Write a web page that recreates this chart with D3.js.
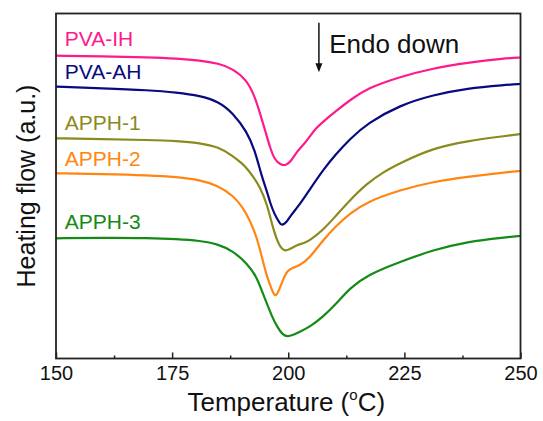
<!DOCTYPE html>
<html>
<head>
<meta charset="utf-8">
<script src="https://cdn.jsdelivr.net/npm/d3@7"></script>
<style>
  html, body { margin: 0; padding: 0; background: #fff; }
  svg text { font-family: "Liberation Sans", Arial, sans-serif; }
</style>
</head>
<body>
<svg id="chart" width="543" height="421"></svg>
<script>
// ---- data ----
const xTicks = [150, 175, 200, 225, 250];
const xMinorTicks = [162.5, 187.5, 212.5, 237.5];

const tIH = [150, 160, 170, 176, 181, 185, 188, 191.1, 192.8, 193.9, 195.0, 196.1, 197.1, 198.3, 199.5, 200.6, 201.7, 202.5, 203.6, 204.7, 206.0, 207.5, 210.1, 213.3, 217.0, 224.1, 231.2, 238.5, 246.7, 250];
const vIH = [87.77, 87.59, 87.30, 86.96, 86.43, 85.51, 84.06, 80.72, 75.88, 71.16, 66.23, 61.01, 57.54, 56.23, 55.88, 57.25, 59.57, 60.87, 62.46, 64.49, 66.81, 68.64, 71.54, 74.93, 78.32, 81.68, 84.12, 85.74, 87.01, 87.25];

const tAH = [150, 160, 170, 176, 181, 185, 188.1, 191.1, 192.8, 194.3, 195.4, 196.1, 197.1, 198.2, 198.6, 199.7, 200.3, 202.5, 204.7, 207.5, 210.1, 213.3, 217.0, 224.1, 231.2, 238.5, 246.7, 250];
const vAH = [78.78, 78.35, 77.77, 77.10, 76.17, 74.49, 71.16, 65.74, 60.43, 52.70, 48.55, 45.07, 41.59, 39.19, 38.49, 39.57, 41.10, 44.64, 49.13, 54.64, 58.99, 63.62, 68.17, 73.48, 76.38, 78.32, 79.28, 79.57];

const tP1 = [150, 160, 170, 176, 181, 185, 188.1, 190.2, 191.1, 192.6, 193.9, 195.4, 196.8, 198.1, 199.3, 200.7, 201.8, 203.6, 204.7, 207.5, 210.1, 213.3, 217.0, 220.5, 224.1, 231.2, 238.5, 246.7, 250];
const vP1 = [63.83, 63.62, 63.33, 63.04, 62.46, 61.30, 58.70, 56.38, 55.07, 52.46, 49.71, 44.99, 37.25, 32.41, 30.96, 31.94, 32.90, 33.48, 34.35, 37.25, 41.10, 45.94, 50.78, 54.06, 56.67, 61.01, 63.04, 64.49, 65.07];

const tP2 = [150, 160, 170, 176, 181, 184.8, 188.1, 190.2, 191.7, 193.2, 194.3, 195.4, 196.5, 197.1, 197.8, 198.8, 199.9, 201.0, 202.5, 204.7, 207.5, 210.1, 213.3, 217.0, 224.1, 231.2, 238.5, 246.7, 250];
const vP2 = [53.68, 53.48, 53.13, 52.61, 51.74, 50.14, 47.25, 43.91, 40.14, 35.30, 29.51, 23.71, 19.86, 17.91, 18.90, 22.75, 25.65, 26.32, 26.96, 29.28, 34.35, 38.20, 42.09, 45.45, 48.84, 51.25, 52.70, 53.97, 54.35];

const tP3 = [150, 160, 170, 176, 181, 184.8, 188.1, 191.1, 193.2, 194.5, 195.4, 196.5, 197.6, 198.8, 199.9, 201.0, 202.5, 204.7, 207.5, 210.1, 213.3, 217.0, 224.1, 231.2, 238.5, 246.7, 250];
const vP3 = [34.84, 34.99, 34.93, 34.64, 34.12, 33.19, 31.16, 27.59, 23.71, 18.90, 16.00, 12.12, 9.22, 6.81, 6.32, 6.81, 7.77, 9.22, 12.12, 15.51, 20.43, 24.20, 28.06, 31.45, 33.86, 35.13, 35.51];

const seriesNames = ["PVA-IH", "PVA-AH", "APPH-1", "APPH-2", "APPH-3"];
const seriesT = [tIH, tAH, tP1, tP2, tP3];
const seriesV = [vIH, vAH, vP1, vP2, vP3];
const seriesColors = ["#ff1a8c", "#0a0a80", "#8a8a1e", "#ff8612", "#168a16"];
// label positions (temperature, a.u.)
const labelT = [151.9, 151.9, 151.9, 151.9, 151.9];
const labelV = [90.7, 80.9, 66.2, 55.8, 37.4];

// ---- layout ----
const svg = d3.select("#chart");
const L = 56, R = 520.5, T = 13.5, B = 358.5;
const x = d3.scaleLinear().domain([150, 250]).range([L, R]);
const y = d3.scaleLinear().domain([0, 100]).range([B, T]);

// curves
const line = d3.line().x(d => x(d[0])).y(d => y(d[1])).curve(d3.curveBasis);
seriesNames.forEach((name, i) => {
  const pts = seriesT[i].map((t, k) => [t, seriesV[i][k]]);
  svg.append("path").datum(pts)
    .attr("d", line)
    .attr("fill", "none")
    .attr("stroke", seriesColors[i])
    .attr("stroke-width", 2.2)
    .attr("stroke-linejoin", "round");
  svg.append("text")
    .attr("x", x(labelT[i])).attr("y", y(labelV[i]))
    .attr("fill", seriesColors[i])
    .attr("font-size", 21)
    .text(name);
});

// bottom axis with inward ticks
const xAxis = d3.axisBottom(x).tickValues(xTicks).tickSize(-6).tickPadding(7).tickFormat(d3.format("d"));
const gx = svg.append("g").attr("transform", `translate(0,${B})`).call(xAxis);
gx.select(".domain").remove();
gx.selectAll(".tick line").attr("stroke", "#222").attr("stroke-width", 1.5);
gx.selectAll(".tick text").attr("font-size", 20).attr("fill", "#111").attr("font-family", "Liberation Sans, Arial, sans-serif");
const xMinor = d3.axisBottom(x).tickValues(xMinorTicks).tickSize(-3).tickFormat("");
const gxm = svg.append("g").attr("transform", `translate(0,${B})`).call(xMinor);
gxm.select(".domain").remove();
gxm.selectAll(".tick line").attr("stroke", "#222").attr("stroke-width", 1.5);

// frame
svg.append("rect").attr("x", L).attr("y", T).attr("width", R - L).attr("height", B - T)
  .attr("fill", "none").attr("stroke", "#222").attr("stroke-width", 1.8);

// axis titles
const xt = svg.append("text").attr("x", (L + R) / 2 - 2).attr("y", 411).attr("text-anchor", "middle")
  .attr("font-size", 26).attr("fill", "#111");
xt.append("tspan").text("Temperature (");
xt.append("tspan").attr("font-size", 15).attr("dy", -11).text("o");
xt.append("tspan").attr("dy", 11).text("C)");

svg.append("text").attr("transform", `translate(35,${(T + B) / 2}) rotate(-90)`)
  .attr("text-anchor", "middle").attr("font-size", 25).attr("fill", "#111")
  .text("Heating flow (a.u.)");

// Endo down annotation
const ax = x(206.6);
svg.append("line").attr("x1", ax).attr("x2", ax).attr("y1", y(97.3)).attr("y2", y(84.5))
  .attr("stroke", "#111").attr("stroke-width", 1.5);
svg.append("path")
  .attr("d", `M${ax - 3.5},${y(85.6)} L${ax + 3.5},${y(85.6)} L${ax},${y(83.0)} Z`)
  .attr("fill", "#111");
svg.append("text").attr("x", x(208.8)).attr("y", y(88.5)).attr("font-size", 26).attr("fill", "#111")
  .text("Endo down");
</script>
</body>
</html>
